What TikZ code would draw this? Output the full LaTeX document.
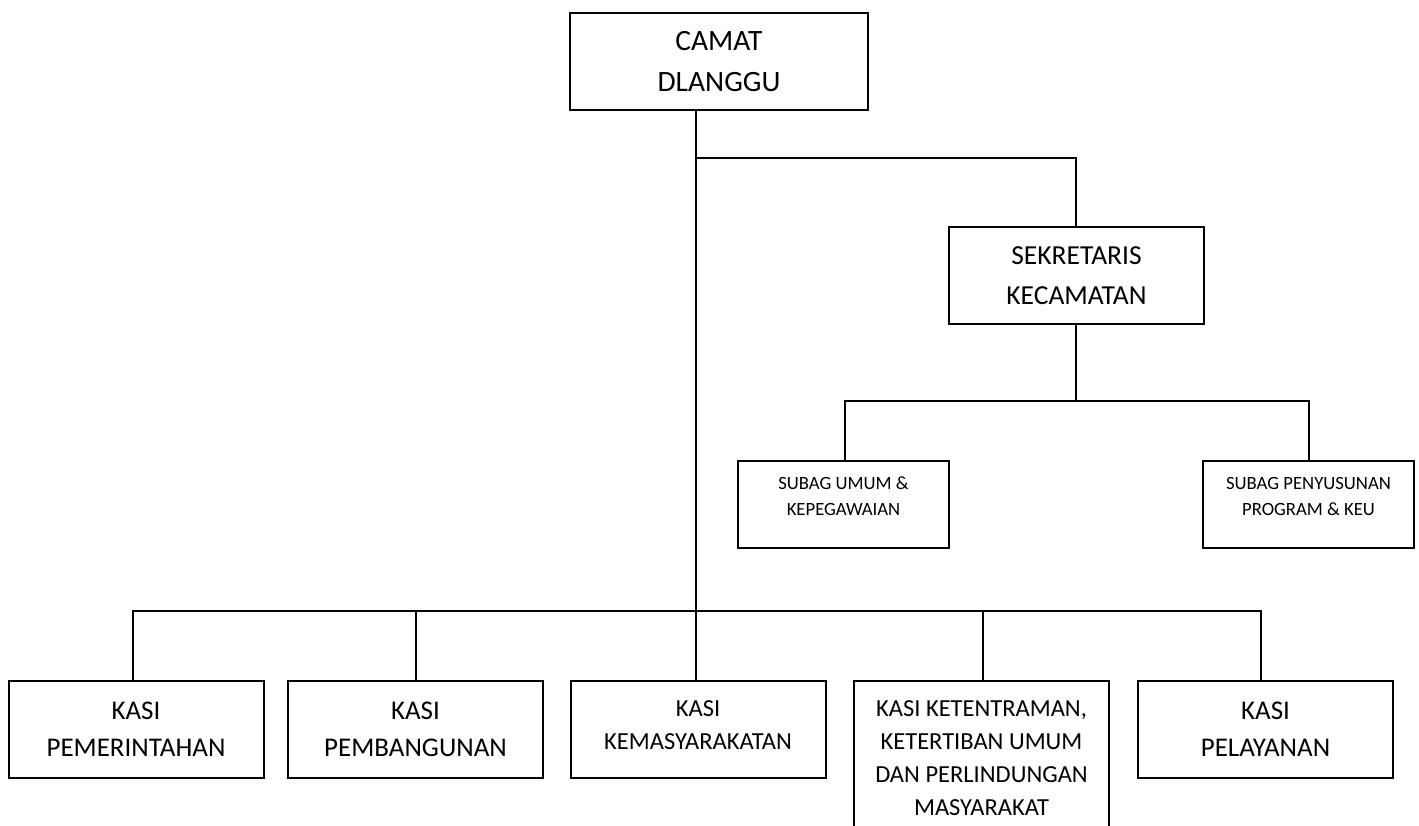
\documentclass[tikz,border=0pt]{standalone}
\usepackage{fontspec}
\setmainfont{Carlito}
\usetikzlibrary{positioning, calc}

\begin{document}
\begin{tikzpicture}[x=1pt, y=-1pt, line width=2pt,
    orgbox/.style={draw, align=center, inner sep=0pt, minimum width=255pt, minimum height=97pt},
    toptext/.style={font=\fontsize{29.5}{41}\selectfont},
    bigtext/.style={font=\fontsize{27}{37}\selectfont},
    midtext/.style={font=\fontsize{24.5}{33}\selectfont},
    smalltext/.style={font=\fontsize{18.7}{26}\selectfont}]
    \useasboundingbox (0,0) rectangle (1419,825);

    % Pimpinan
    \node[orgbox, toptext, minimum width=298pt] (camat) at (719, 61.5) {CAMAT\\DLANGGU};
    \node[orgbox, bigtext, font=\fontsize{27.5}{40}\selectfont] (sek) at (1076.5, 275.5) {SEKRETARIS\\KECAMATAN};

    % Subbagian
    \node[orgbox, smalltext, minimum width=211pt, minimum height=87pt, text depth=16pt] (umum) at (843.5, 504.5) {SUBAG UMUM \&\\KEPEGAWAIAN};
    \node[orgbox, smalltext, minimum width=211pt, minimum height=87pt, text depth=16pt] (ppk) at (1308.5, 504.5) {SUBAG PENYUSUNAN\\PROGRAM \& KEU};

    % Seksi
    \node[orgbox, bigtext] (pem) at (136, 729.5) {KASI\\PEMERINTAHAN};
    \node[orgbox, bigtext] (pemb) at (415.5, 729.5) {KASI\\PEMBANGUNAN};
    \node[orgbox, midtext, text depth=8pt] (kemas) at (698, 729.5) {KASI\\KEMASYARAKATAN};
    \node[orgbox, midtext, minimum height=154pt] (trantib) at (981.5, 758) {KASI KETENTRAMAN,\\KETERTIBAN UMUM\\DAN PERLINDUNGAN\\MASYARAKAT};
    \node[orgbox, bigtext] (pel) at (1265.5, 729.5) {KASI\\PELAYANAN};

    % Garis komando
    \coordinate (cab) at (696, 158);
    \coordinate (bus) at (696, 611);
    \coordinate (sbus) at (1075.5, 401);
    \draw (camat.south -| bus) -- (bus);
    \draw (cab) -| ([xshift=-1pt]sek.north);
    \draw ([xshift=-1pt]sek.south) -- (sbus);
    \draw ([xshift=1.5pt]umum.north) |- (sbus) -| (ppk.north);
    \draw ([xshift=-3pt]pem.north) |- (bus) -| ([xshift=-4.5pt]pel.north);
    \draw (pemb.north) -- (pemb.north |- bus);
    \draw (kemas.north -| bus) -- (bus);
    \draw ([xshift=1.5pt]trantib.north) -- ([xshift=1.5pt]trantib.north |- bus);
\end{tikzpicture}
\end{document}
